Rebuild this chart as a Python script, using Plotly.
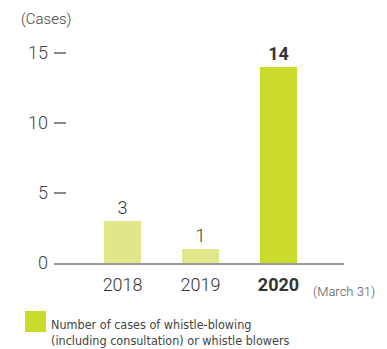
import plotly.graph_objects as go

# Whistle-blowing cases by fiscal year (as of March 31)
years = ["2018", "2019", "2020"]
cases = [3, 1, 14]
year_labels = ["2018", "2019", "<b>2020</b>"]
value_labels = ["3", "1", "<b>14</b>"]
bar_colors = ["#e1e68b", "#e1e68b", "#cbdb2b"]

y_ticks = [0, 5, 10, 15]

fig = go.Figure()
fig.add_trace(go.Bar(
    x=years,
    y=cases,
    marker=dict(color=bar_colors, line=dict(width=0)),
    width=0.475,
    text=value_labels,
    textposition="outside",
    textfont=dict(size=18, color="#333333", family="Roboto", weight=300),
    cliponaxis=False,
    showlegend=False,
))

fig.update_layout(
    width=387,
    height=349,
    margin=dict(l=54, r=43, t=39, b=86),
    paper_bgcolor="white",
    plot_bgcolor="white",
    font=dict(family="Roboto", color="#333333", weight=300),
    bargap=0.5,
    xaxis=dict(
        type="category",
        range=[-0.88, 2.84],
        tickvals=years,
        ticktext=year_labels,
        tickfont=dict(size=18, color="#333333", weight=300),
        ticklabelstandoff=4,
        showline=True,
        linecolor="#9a9a9a",
        linewidth=2,
        ticks="",
        showgrid=False,
        zeroline=False,
        fixedrange=True,
    ),
    yaxis=dict(
        range=[0, 16],
        tickvals=y_ticks,
        ticktext=[str(v) for v in y_ticks],
        tickfont=dict(size=18, color="#444444", weight=300),
        ticks="inside",
        ticklen=12,
        tickwidth=1.5,
        tickcolor="#8a8a8a",
        ticklabelstandoff=5,
        showline=False,
        showgrid=False,
        zeroline=False,
        fixedrange=True,
    ),
    annotations=[
        dict(text="(Cases)", xref="paper", yref="paper",
             x=(19 - 54) / 290, y=(263 - 19) / 224, xanchor="left", yanchor="middle",
             showarrow=False, font=dict(size=15, color="#444444", weight=300)),
        dict(text="(March 31)", xref="paper", yref="paper",
             x=(311 - 54) / 290, y=(263 - 291) / 224, xanchor="left", yanchor="middle",
             showarrow=False, font=dict(size=13, color="#555555", weight=300)),
        dict(text="Number of cases of whistle-blowing<br>(including consultation) or whistle blowers",
             xref="paper", yref="paper",
             x=(49 - 54) / 290, y=(263 - 332) / 224, xanchor="left", yanchor="middle",
             align="left", showarrow=False,
             font=dict(size=12.5, color="#444444", family="DejaVu Sans Condensed", weight="normal")),
    ],
    shapes=[
        dict(type="rect", xref="paper", yref="paper",
             x0=(25 - 54) / 290, x1=(46 - 54) / 290,
             y0=(263 - 311) / 224, y1=(263 - 332) / 224,
             fillcolor="#cbdb2b", line=dict(width=0)),
    ],
)

fig.write_html("out.html")
